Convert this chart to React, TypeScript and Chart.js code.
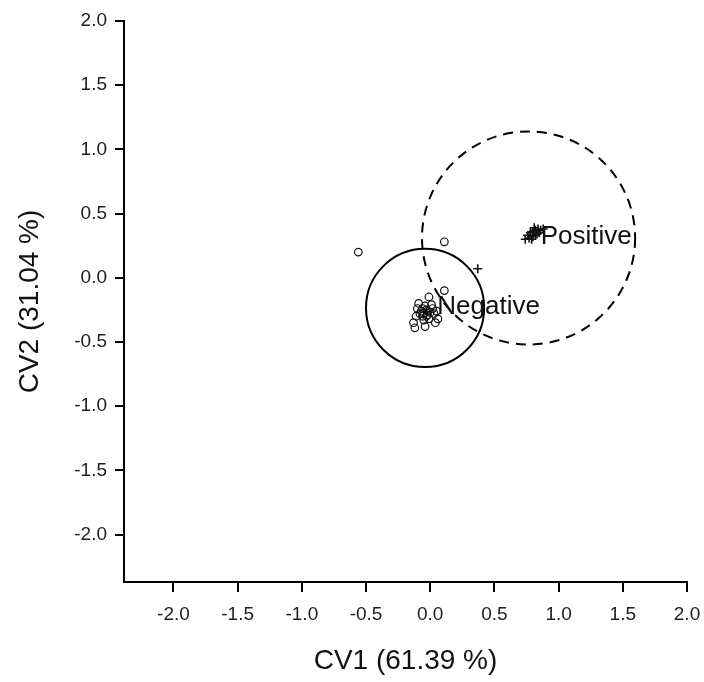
import React, { useEffect, useRef } from "react";
import { Chart, registerables } from "chart.js";

Chart.register(...registerables);

// Canonical variate scores, negative group (open circles)
const negativeX = [
  -0.56, 0.11, 0.11, -0.01, -0.09, -0.13, -0.12, -0.04, 0.04, 0.06, -0.1,
  -0.07, -0.05, -0.03, -0.02, 0.0, -0.06, -0.04, 0.02, -0.08, -0.01, 0.03,
  -0.05, 0.01, -0.03, -0.06, -0.11, 0.05, -0.02,
];
const negativeY = [
  0.2, 0.28, -0.1, -0.15, -0.2, -0.35, -0.39, -0.38, -0.35, -0.32, -0.24,
  -0.26, -0.28, -0.25, -0.29, -0.27, -0.3, -0.22, -0.24, -0.28, -0.32, -0.28,
  -0.33, -0.21, -0.3, -0.24, -0.3, -0.26, -0.26,
];

// Canonical variate scores, positive group (crosses)
const positiveX = [
  0.37, 0.74, 0.76, 0.78, 0.8, 0.82, 0.84, 0.86, 0.83, 0.8, 0.79, 0.82, 0.85,
  0.88, 0.81, 0.77,
];
const positiveY = [
  0.07, 0.3, 0.33, 0.35, 0.36, 0.37, 0.38, 0.37, 0.34, 0.32, 0.3, 0.33, 0.35,
  0.38, 0.39, 0.31,
];

// Group regions: centre and radius in canonical units
const groupNames = ["Negative", "Positive"];
const regionCenterX = [-0.04, 0.766];
const regionCenterY = [-0.235, 0.31];
const regionRadius = [0.46, 0.83];
const regionDashed = [false, true];

// Group label anchors (left edge, vertical middle)
const labelX = [0.055, 0.86];
const labelY = [-0.23, 0.32];

const tickValues = [-2.0, -1.5, -1.0, -0.5, 0.0, 0.5, 1.0, 1.5, 2.0];
const xTitle = "CV1 (61.39 %)";
const yTitle = "CV2 (31.04 %)";

const FONT = "'Liberation Sans', Arial, sans-serif";

const regionPlugin = {
  id: "groupRegions",
  afterDatasetsDraw(chart: any) {
    const { ctx, scales } = chart;
    const xs = scales.x;
    const ys = scales.y;
    ctx.save();
    ctx.strokeStyle = "#000";
    ctx.lineWidth = 2;
    for (let i = 0; i < groupNames.length; i++) {
      const cx = xs.getPixelForValue(regionCenterX[i]);
      const cy = ys.getPixelForValue(regionCenterY[i]);
      const rx = Math.abs(xs.getPixelForValue(regionCenterX[i] + regionRadius[i]) - cx);
      const ry = Math.abs(ys.getPixelForValue(regionCenterY[i] + regionRadius[i]) - cy);
      ctx.setLineDash(regionDashed[i] ? [10, 7] : []);
      ctx.beginPath();
      ctx.ellipse(cx, cy, rx, ry, 0, 0, Math.PI * 2);
      ctx.stroke();
    }
    ctx.setLineDash([]);
    ctx.fillStyle = "#111";
    ctx.font = `26px ${FONT}`;
    ctx.textAlign = "left";
    ctx.textBaseline = "middle";
    for (let i = 0; i < groupNames.length; i++) {
      ctx.fillText(
        groupNames[i],
        xs.getPixelForValue(labelX[i]),
        ys.getPixelForValue(labelY[i])
      );
    }
    ctx.restore();
  },
};

function fixedTicks(scale: any) {
  scale.ticks = tickValues.map((v) => ({ value: v }));
}

export default function App() {
  const canvasRef = useRef<HTMLCanvasElement | null>(null);

  useEffect(() => {
    const canvas = canvasRef.current;
    if (!canvas) return;
    const chart = new Chart(canvas, {
      type: "scatter",
      data: {
        datasets: [
          {
            label: groupNames[0],
            data: negativeX.map((x, i) => ({ x, y: negativeY[i] })),
            pointStyle: "circle",
            pointRadius: 3.8,
            borderColor: "#111",
            backgroundColor: "rgba(0,0,0,0)",
            borderWidth: 1.2,
          },
          {
            label: groupNames[1],
            data: positiveX.map((x, i) => ({ x, y: positiveY[i] })),
            pointStyle: "cross",
            pointRadius: 4.5,
            borderColor: "#111",
            backgroundColor: "#111",
            borderWidth: 1.6,
          },
        ],
      },
      options: {
        responsive: false,
        animation: false,
        layout: { padding: { top: 21, right: 17, left: 0, bottom: 0 } },
        plugins: {
          legend: { display: false },
          tooltip: { enabled: false },
        },
        scales: {
          x: {
            type: "linear",
            min: -2.385,
            max: 2.0,
            afterBuildTicks: fixedTicks,
            afterFit: (s: any) => {
              s.height = 100;
              s.paddingLeft = 0;
              s.paddingRight = 0;
            },
            grid: {
              display: true,
              drawOnChartArea: false,
              drawTicks: true,
              tickLength: 10,
              color: "#000",
              lineWidth: 2,
            },
            border: { display: true, color: "#000", width: 2 },
            ticks: {
              color: "#222",
              font: { family: FONT, size: 19 },
              padding: 11,
              maxRotation: 0,
              callback: (v: any) => Number(v).toFixed(1),
            },
            title: {
              display: true,
              text: xTitle,
              color: "#111",
              font: { family: FONT, size: 28 },
              padding: { top: 0, bottom: 4 },
            },
          },
          y: {
            type: "linear",
            min: -2.37,
            max: 2.0,
            afterBuildTicks: fixedTicks,
            afterFit: (s: any) => {
              s.width = 124;
              s.paddingTop = 0;
              s.paddingBottom = 0;
            },
            grid: {
              display: true,
              drawOnChartArea: false,
              drawTicks: true,
              tickLength: 9,
              color: "#000",
              lineWidth: 2,
            },
            border: { display: true, color: "#000", width: 2 },
            ticks: {
              color: "#222",
              font: { family: FONT, size: 19 },
              padding: 8,
              callback: (v: any) => Number(v).toFixed(1),
            },
            title: {
              display: true,
              text: yTitle,
              color: "#111",
              font: { family: FONT, size: 28 },
              padding: { top: 13, bottom: 0 },
            },
          },
        },
      },
      plugins: [regionPlugin],
    });
    return () => chart.destroy();
  }, []);

  return (
    <div style={{ position: "absolute", left: 0, top: 0, width: 704, height: 682, background: "#fff" }}>
      <canvas ref={canvasRef} width={704} height={682} />
    </div>
  );
}
